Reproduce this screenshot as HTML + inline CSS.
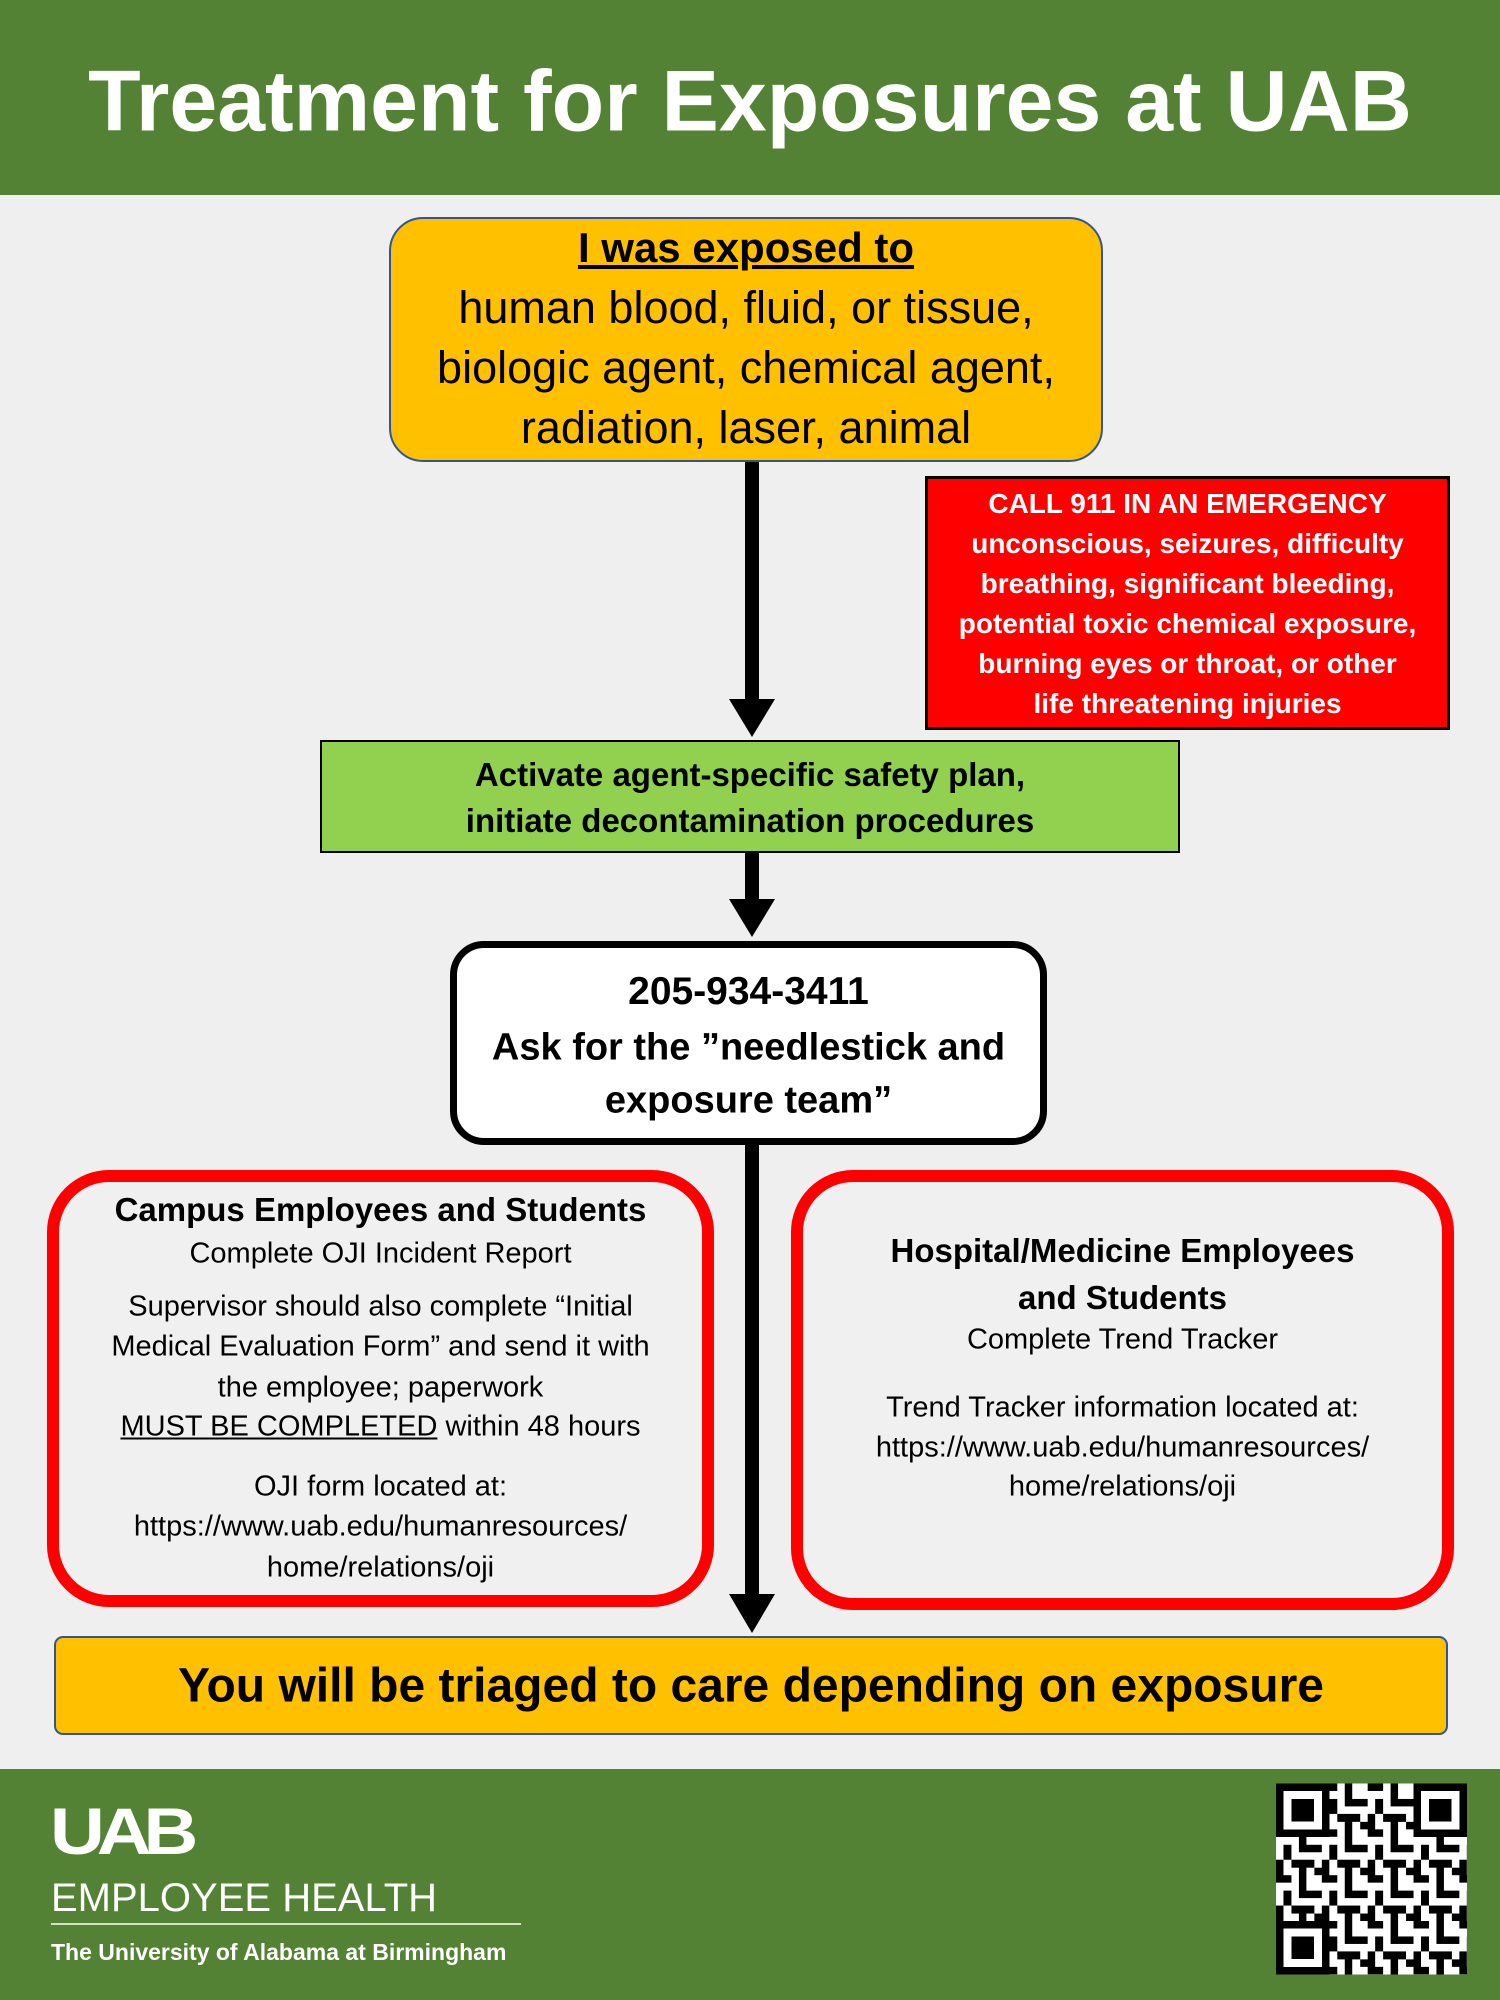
<!DOCTYPE html>
<html><head><meta charset="utf-8"><style>
*{margin:0;padding:0;box-sizing:border-box}
body{width:1500px;height:2000px;background:#efefef;position:relative;overflow:hidden;font-family:"Liberation Sans",Arial,sans-serif;color:#000}
.a{position:absolute}
.t{position:absolute;left:0;right:0;text-align:center;white-space:nowrap;transform:translateY(-50%)}
.b{font-weight:bold}
</style></head><body>
<div class="a" style="left:0;top:0;width:1500px;height:195px;background:#548235"></div>
<div class="t b" style="top:102px;font-size:86px;color:#fff">Treatment for Exposures at UAB</div>

<div class="a" style="left:389px;top:217px;width:714px;height:245px;background:#ffc000;border:2px solid #2f5597;border-radius:34px">
 <div class="t b" style="top:29px;font-size:42px;text-decoration:underline">I was exposed to</div>
 <div class="t" style="top:89px;font-size:45px">human blood, fluid, or tissue,</div>
 <div class="t" style="top:149px;font-size:45px">biologic agent, chemical agent,</div>
 <div class="t" style="top:209px;font-size:45px">radiation, laser, animal</div>
</div>

<svg class="a" style="left:0;top:0" width="1500" height="2000">
 <rect x="745" y="462" width="14" height="240" fill="#000"/>
 <polygon points="729,699 775,699 752,737" fill="#000"/>
 <rect x="745" y="853" width="14" height="50" fill="#000"/>
 <polygon points="729,899 775,899 752,937" fill="#000"/>
 <rect x="745" y="1145" width="14" height="455" fill="#000"/>
 <polygon points="729,1594 775,1594 752,1633" fill="#000"/>
</svg>

<div class="a b" style="left:925px;top:476px;width:525px;height:254px;background:#ff0000;border:3px solid #000;color:#fff">
 <div class="t" style="top:25px;font-size:28px">CALL 911 IN AN EMERGENCY</div>
 <div class="t" style="top:65px;font-size:28px">unconscious, seizures, difficulty</div>
 <div class="t" style="top:105px;font-size:28px">breathing, significant bleeding,</div>
 <div class="t" style="top:145px;font-size:28px">potential toxic chemical exposure,</div>
 <div class="t" style="top:185px;font-size:28px">burning eyes or throat, or other</div>
 <div class="t" style="top:225px;font-size:28px">life threatening injuries</div>
</div>

<div class="a b" style="left:320px;top:740px;width:860px;height:113px;background:#92d050;border:2px solid #000">
 <div class="t" style="top:33px;font-size:33px">Activate agent-specific safety plan,</div>
 <div class="t" style="top:79px;font-size:33px">initiate decontamination procedures</div>
</div>

<div class="a b" style="left:450px;top:941px;width:597px;height:204px;background:#fff;border:7px solid #000;border-radius:34px">
 <div class="t" style="top:44px;font-size:39px">205-934-3411</div>
 <div class="t" style="top:100px;font-size:38px">Ask for the ”needlestick and</div>
 <div class="t" style="top:153px;font-size:38px">exposure team”</div>
</div>

<div class="a" style="left:47px;top:1170px;width:667px;height:437px;background:#f0f0f0;border:12px solid #ff0000;border-radius:62px">
 <div class="t b" style="top:28px;font-size:33px">Campus Employees and Students</div>
 <div class="t" style="top:72px;font-size:29px">Complete OJI Incident Report</div>
 <div class="t" style="top:125px;font-size:29px">Supervisor should also complete “Initial</div>
 <div class="t" style="top:165px;font-size:29px">Medical Evaluation Form” and send it with</div>
 <div class="t" style="top:206px;font-size:29px">the employee; paperwork</div>
 <div class="t" style="top:245px;font-size:29px"><u>MUST BE COMPLETED</u> within 48 hours</div>
 <div class="t" style="top:305px;font-size:29px">OJI form located at:</div>
 <div class="t" style="top:345px;font-size:29px">https://www.uab.edu/humanresources/</div>
 <div class="t" style="top:386px;font-size:29px">home/relations/oji</div>
</div>

<div class="a" style="left:791px;top:1170px;width:663px;height:440px;background:#f0f0f0;border:12px solid #ff0000;border-radius:62px">
 <div class="t b" style="top:69px;font-size:33px">Hospital/Medicine Employees</div>
 <div class="t b" style="top:116px;font-size:33px">and Students</div>
 <div class="t" style="top:158px;font-size:29px">Complete Trend Tracker</div>
 <div class="t" style="top:226px;font-size:29px">Trend Tracker information located at:</div>
 <div class="t" style="top:266px;font-size:29px">https://www.uab.edu/humanresources/</div>
 <div class="t" style="top:305px;font-size:29px">home/relations/oji</div>
</div>

<div class="a b" style="left:54px;top:1636px;width:1394px;height:99px;background:#ffc000;border:2px solid #2f5597;border-radius:9px">
 <div class="t" style="top:48px;font-size:48px">You will be triaged to care depending on exposure</div>
</div>

<div class="a" style="left:0;top:1769px;width:1500px;height:231px;background:#548235"></div>
<div class="a b" style="left:50px;top:1800px;font-size:66px;color:#fff;letter-spacing:-7px;line-height:62px;transform:scaleX(1.15);transform-origin:left">UAB</div>
<div class="a" style="left:51px;top:1875px;font-size:40px;color:#fff;line-height:46px">EMPLOYEE HEALTH</div>
<div class="a" style="left:51px;top:1923px;width:470px;height:2px;background:#cfe3c0"></div>
<div class="a b" style="left:51px;top:1938px;font-size:23px;color:#fff;line-height:28px">The University of Alabama at Birmingham</div>

<svg class="a" style="left:1276px;top:1783px" width="191" height="192" viewBox="0 0 25 25" shape-rendering="crispEdges">
 <defs><pattern id="q" width="6" height="6" patternUnits="userSpaceOnUse">
  <rect width="6" height="6" fill="#fff"/>
  <rect x="0" y="0" width="2" height="1" fill="#000"/><rect x="3" y="0" width="1" height="3" fill="#000"/>
  <rect x="1" y="2" width="1" height="2" fill="#000"/><rect x="4" y="2" width="2" height="1" fill="#000"/>
  <rect x="0" y="4" width="1" height="2" fill="#000"/><rect x="2" y="4" width="3" height="1" fill="#000"/>
  <rect x="5" y="5" width="1" height="1" fill="#000"/><rect x="3" y="5" width="1" height="1" fill="#000"/>
 </pattern></defs>
 <rect width="25" height="25" fill="url(#q)"/>
 <g fill="#000"><rect x="0" y="0" width="7" height="7"/><rect x="18" y="0" width="7" height="7"/><rect x="0" y="18" width="7" height="7"/></g>
 <g fill="#fff"><rect x="1" y="1" width="5" height="5"/><rect x="19" y="1" width="5" height="5"/><rect x="1" y="19" width="5" height="5"/></g>
 <g fill="#000"><rect x="2" y="2" width="3" height="3"/><rect x="20" y="2" width="3" height="3"/><rect x="2" y="20" width="3" height="3"/></g>
</svg>
</body></html>
